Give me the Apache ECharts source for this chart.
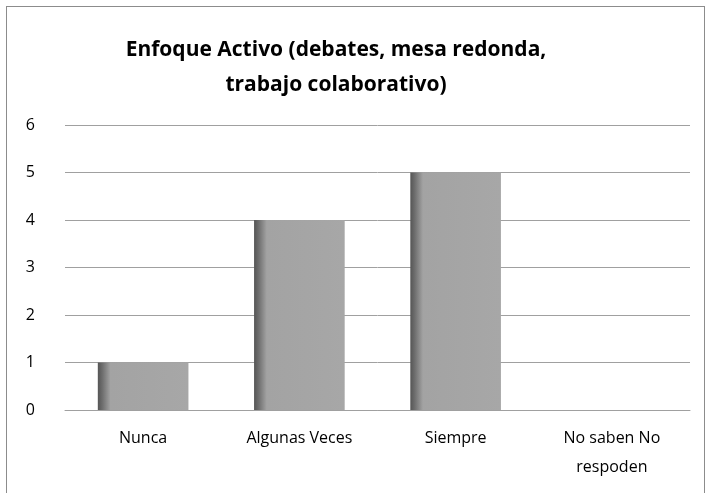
<!DOCTYPE html>
<html>
<head>
<meta charset="utf-8">
<script src="https://cdn.jsdelivr.net/npm/echarts@6/dist/echarts.min.js"></script>
<style>
  html, body { margin: 0; padding: 0; background: #fff; }
  #chart { width: 708px; height: 493px; }
  .frame {
    position: absolute;
    left: 6px; top: 6px; width: 697px; height: 500px;
    border: 1px solid #8c8c8c;
    pointer-events: none;
  }
</style>
</head>
<body>
<div id="chart"></div>
<div class="frame"></div>
<script>
// categorias y valores
const categories = ['Nunca', 'Algunas Veces', 'Siempre', 'No saben No\nrespoden']
const values = [1, 4, 5, 0]
const yTicks = [0, 1, 2, 3, 4, 5, 6]

const chart = echarts.init(document.getElementById('chart'))
const option = {
  animation: false,
  title: {
    text: 'Enfoque Activo (debates, mesa redonda,\ntrabajo colaborativo)',
    left: 331,
    top: 28,
    textAlign: 'center',
    textStyle: {
      fontFamily: 'Open Sans',
      fontWeight: 'bold',
      fontSize: 21,
      lineHeight: 35,
      color: '#000'
    }
  },
  grid: {
    left: 65,
    right: 18,
    top: 125,
    bottom: 83
  },
  xAxis: {
    type: 'category',
    data: categories,
    axisLine: { lineStyle: { color: '#a0a0a0', width: 1 } },
    axisTick: { show: false },
    axisLabel: {
      margin: 14,
      fontFamily: 'Open Sans',
      fontSize: 16,
      lineHeight: 29,
      color: '#000'
    }
  },
  yAxis: {
    type: 'value',
    min: yTicks[0],
    max: yTicks[yTicks.length - 1],
    interval: 1,
    axisLine: { show: false },
    axisTick: { show: false },
    splitLine: { lineStyle: { color: '#a0a0a0', width: 1 } },
    axisLabel: {
      margin: 30,
      fontFamily: 'Open Sans',
      fontSize: 16,
      color: '#000'
    }
  },
  series: [
    {
      type: 'bar',
      data: values,
      barWidth: '58%',
      itemStyle: {
        color: new echarts.graphic.LinearGradient(0, 0, 1, 0, [
          { offset: 0, color: '#555555' },
          { offset: 0.05, color: '#6e6e6e' },
          { offset: 0.14, color: '#a3a3a3' },
          { offset: 1, color: '#a7a7a7' }
        ]),
        borderWidth: 0
      }
    }
  ]
}
chart.setOption(option)
</script>
</body>
</html>
